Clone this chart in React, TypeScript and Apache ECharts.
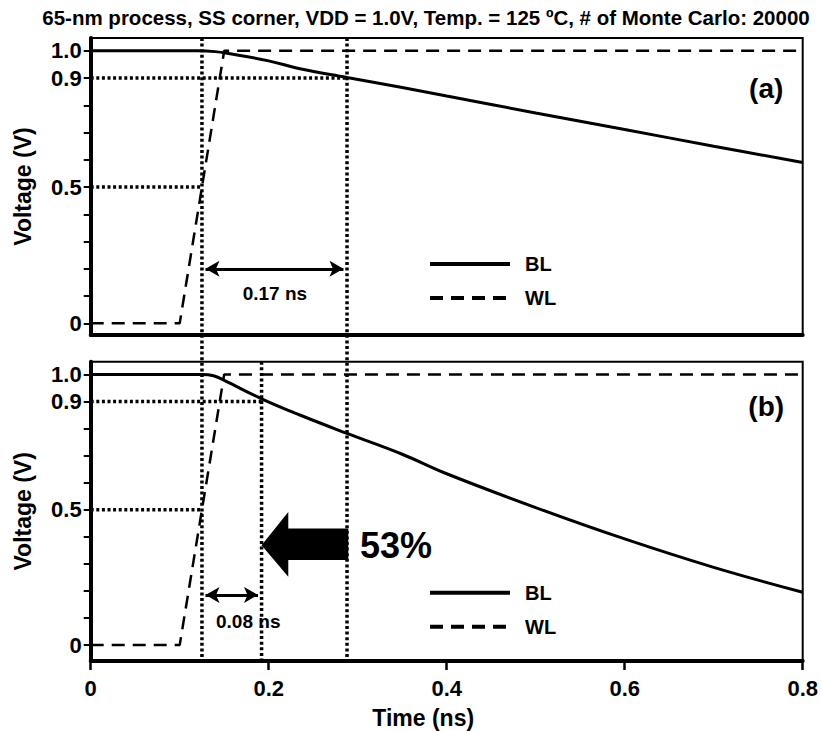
import React, { useEffect, useRef } from 'react';
import * as echarts from 'echarts';

const TITLE = '65-nm process, SS corner, VDD = 1.0V, Temp. = 125 ºC, # of Monte Carlo: 20000';
const xTickStep = 0.2;
const xMax = 0.8;
const yTickValues = [0, 0.1, 0.2, 0.3, 0.4, 0.5, 0.6, 0.7, 0.8, 0.9, 1.0];
const yLabelValues = [0, 0.5, 0.9, 1.0];
const yRangeA = [-0.043, 1.047];
const yRangeB = [-0.059, 1.047];

// BL discharge, panel (a)
const blTimeA = [0, 0.12, 0.14, 0.155, 0.2, 0.235, 0.288, 0.35, 0.4, 0.5, 0.6, 0.7, 0.8];
const blVoltA = [1.0, 1.0, 0.997, 0.99, 0.963, 0.934, 0.902, 0.865, 0.834, 0.772, 0.711, 0.65, 0.59];
// BL discharge, panel (b)
const blTimeB = [0, 0.125, 0.138, 0.15, 0.192, 0.235, 0.288, 0.35, 0.4, 0.5, 0.6, 0.7, 0.8];
const blVoltB = [1.0, 1.0, 0.995, 0.978, 0.91, 0.85, 0.782, 0.705, 0.633, 0.508, 0.392, 0.287, 0.195];
// WL rise (both panels)
const wlTime = [0, 0.1, 0.15, 0.8];
const wlVolt = [0, 0, 1.0, 1.0];

// annotation times
const tWL50 = 0.125;
const tBL90A = 0.288;
const tBL90B = 0.192;
const delayLabels = ['0.17 ns', '0.08 ns'];
const panelLabels = ['(a)', '(b)'];
const improvement = '53%';

// big arrow (panel b), data coords
const bigArrowX = [0.192, 0.222, 0.2894];
const bigArrowY = [0.252, 0.314, 0.369, 0.431, 0.492];

const FONT = 'Liberation Sans, Arial, Helvetica, sans-serif';
const DOT = [3, 2.6];

const zip = (a: number[], b: number[]) => a.map((v, i) => [v, b[i]]);

export default function App() {
  const ref = useRef<HTMLDivElement>(null);
  useEffect(() => {
    const chart = echarts.init(ref.current!, null, { renderer: 'svg' });
    const gridA = { left: 90.7, right: 19.3, top: 38, height: 297 };
    const gridB = { left: 90.7, right: 19.3, top: 361.7, height: 299.3 };
    const yAxisCommon = (range: number[], gi: number) => ({
      type: 'value',
      gridIndex: gi,
      min: range[0],
      max: range[1],
      name: 'Voltage (V)',
      nameLocation: 'middle',
      nameGap: 56,
      nameTextStyle: { fontFamily: FONT, fontWeight: 'bold', fontSize: 23, color: '#000' },
      axisLine: { show: true, onZero: false, lineStyle: { color: '#000', width: 4 } },
      axisTick: { show: true, customValues: yTickValues, length: 7, inside: false, lineStyle: { color: '#000', width: 2 } },
      axisLabel: {
        customValues: yLabelValues,
        margin: 9,
        fontFamily: FONT, fontWeight: 'bold', fontSize: 22, color: '#000',
        formatter: (v: number) => (v === 0 ? '0' : v.toFixed(1)),
      },
      splitLine: { show: false },
    });
    const dotted = { color: '#000', width: 3.5, type: DOT };
    const hLine = (gi: number, xEnd: number, y: number) => ({
      type: 'line', xAxisIndex: gi, yAxisIndex: gi, data: [[0, y], [xEnd, y]],
      symbol: 'none', lineStyle: dotted, silent: true, z: 1,
    });
    const arrowMark = (x0: number, x1: number, y: number) => ({
      silent: true,
      symbol: ['arrow', 'arrow'],
      symbolSize: [12, 14],
      lineStyle: { color: '#000', width: 3, type: 'solid' },
      label: { show: false },
      emphasis: { disabled: true },
      data: [[{ coord: [x0, y] }, { coord: [x1, y] }]],
    });
    const legendCommon = {
      orient: 'vertical', left: 428, padding: 0, itemWidth: 80, itemHeight: 18, itemGap: 14,
      data: ['BL', 'WL'], selectedMode: false,
      itemStyle: { opacity: 0, borderWidth: 0 },
      lineStyle: { width: 4 },
      textStyle: { fontFamily: FONT, fontWeight: 'bold', fontSize: 20, color: '#000', padding: [0, 0, 0, 10] },
    };
    chart.setOption({
      animation: false,
      backgroundColor: '#fff',
      title: {
        text: TITLE, left: 421, top: 2, textAlign: 'center',
        textStyle: { fontFamily: FONT, fontWeight: 'bold', fontSize: 20.5, color: '#000' },
      },
      legend: [
        { ...legendCommon, top: 254 },
        { ...legendCommon, top: 582.7 },
      ],
      grid: [
        { ...gridA, show: true, borderColor: '#000', borderWidth: 2, backgroundColor: 'transparent' },
        { ...gridB, show: true, borderColor: '#000', borderWidth: 2, backgroundColor: 'transparent' },
      ],
      xAxis: [
        {
          type: 'value', gridIndex: 0, min: 0, max: xMax, interval: xTickStep,
          axisLine: { show: true, onZero: false, lineStyle: { color: '#000', width: 4 } },
          axisTick: { show: false }, axisLabel: { show: false }, splitLine: { show: false },
        },
        {
          type: 'value', gridIndex: 1, min: 0, max: xMax, interval: xTickStep,
          name: 'Time (ns)', nameLocation: 'middle', nameGap: 45,
          nameTextStyle: { fontFamily: FONT, fontWeight: 'bold', fontSize: 23, color: '#000', padding: [0, 47, 0, 0] },
          axisLine: { show: true, onZero: false, lineStyle: { color: '#000', width: 4 } },
          axisTick: { show: true, length: 9, inside: false, lineStyle: { color: '#000', width: 2.5 } },
          axisLabel: {
            margin: 16, fontFamily: FONT, fontWeight: 'bold', fontSize: 22, color: '#000',
            formatter: (v: number) => (v === 0 ? '0' : v.toFixed(1)),
          },
          splitLine: { show: false },
        },
      ],
      yAxis: [yAxisCommon(yRangeA, 0), yAxisCommon(yRangeB, 1)],
      series: [
        hLine(0, tBL90A, 0.9),
        hLine(0, tWL50, 0.5),
        hLine(1, tBL90B, 0.9),
        hLine(1, tWL50, 0.5),
        {
          name: 'BL', type: 'line', xAxisIndex: 0, yAxisIndex: 0, data: zip(blTimeA, blVoltA),
          symbol: 'none', smooth: 0.4, lineStyle: { color: '#000', width: 3 },
          itemStyle: { color: '#000' }, z: 3,
          markLine: arrowMark(tWL50 + 0.004, tBL90A - 0.004, 0.2),
        },
        {
          name: 'WL', type: 'line', xAxisIndex: 0, yAxisIndex: 0, data: zip(wlTime, wlVolt),
          symbol: 'none', lineStyle: { color: '#000', width: 2.5, type: [13, 8] },
          itemStyle: { color: '#000' }, z: 3,
        },
        {
          name: 'BL', type: 'line', xAxisIndex: 1, yAxisIndex: 1, data: zip(blTimeB, blVoltB),
          symbol: 'none', smooth: 0.4, lineStyle: { color: '#000', width: 3 },
          itemStyle: { color: '#000' }, z: 3,
          markLine: arrowMark(tWL50 + 0.004, tBL90B - 0.004, 0.185),
        },
        {
          name: 'WL', type: 'line', xAxisIndex: 1, yAxisIndex: 1, data: zip(wlTime, wlVolt),
          symbol: 'none', lineStyle: { color: '#000', width: 2.5, type: [13, 8] },
          itemStyle: { color: '#000' }, z: 3,
        },
        {
          type: 'custom', xAxisIndex: 1, yAxisIndex: 1, data: [[bigArrowX[1], bigArrowY[2]]], silent: true, z: 2,
          renderItem: (_p: any, api: any) => {
            const [xa, xb, xc] = bigArrowX;
            const [y0, y1, y2, y3, y4] = bigArrowY;
            const pts = [[xa, y2], [xb, y4], [xb, y3], [xc, y3], [xc, y1], [xb, y1], [xb, y0]].map((p) => api.coord(p));
            return { type: 'polygon', shape: { points: pts }, style: { fill: '#000' } };
          },
        },
      ],
    });

    const px = (g: number, x: number, y: number) => chart.convertToPixel({ gridIndex: g } as any, [x, y]) as number[];
    const vLine = (x: number, gTop: number, yTop: number, gBot: number, yBot: number) => {
      const a = px(gTop, x, yTop);
      const b = px(gBot, x, yBot);
      return {
        type: 'line', shape: { x1: a[0], y1: a[1], x2: b[0], y2: b[1] },
        style: { stroke: '#000', lineWidth: 3.5, lineDash: DOT }, z: 10, silent: true,
      };
    };
    const txt = (g: number, x: number, y: number, text: string, size: number, align = 'center') => {
      const p = px(g, x, y);
      return {
        type: 'text', x: p[0], y: p[1], z: 10, silent: true,
        style: { text, fill: '#000', font: `bold ${size}px ${FONT}`, align, verticalAlign: 'middle' },
      };
    };
    chart.setOption({
      graphic: [
        vLine(tWL50, 0, yRangeA[1], 1, yRangeB[0]),
        vLine(tBL90A, 0, yRangeA[1], 1, yRangeB[0]),
        vLine(tBL90B, 1, yRangeB[1], 1, yRangeB[0]),
        txt(0, 0.759, 0.863, panelLabels[0], 28),
        txt(1, 0.759, 0.88, panelLabels[1], 28),
        txt(0, 0.207, 0.111, delayLabels[0], 19),
        txt(1, 0.177, 0.086, delayLabels[1], 19),
        txt(1, 0.3026, 0.369, improvement, 36, 'left'),
      ],
    });
    return () => chart.dispose();
  }, []);
  return <div ref={ref} style={{ position: 'fixed', left: 0, top: 0, width: 822, height: 731 }} />;
}
